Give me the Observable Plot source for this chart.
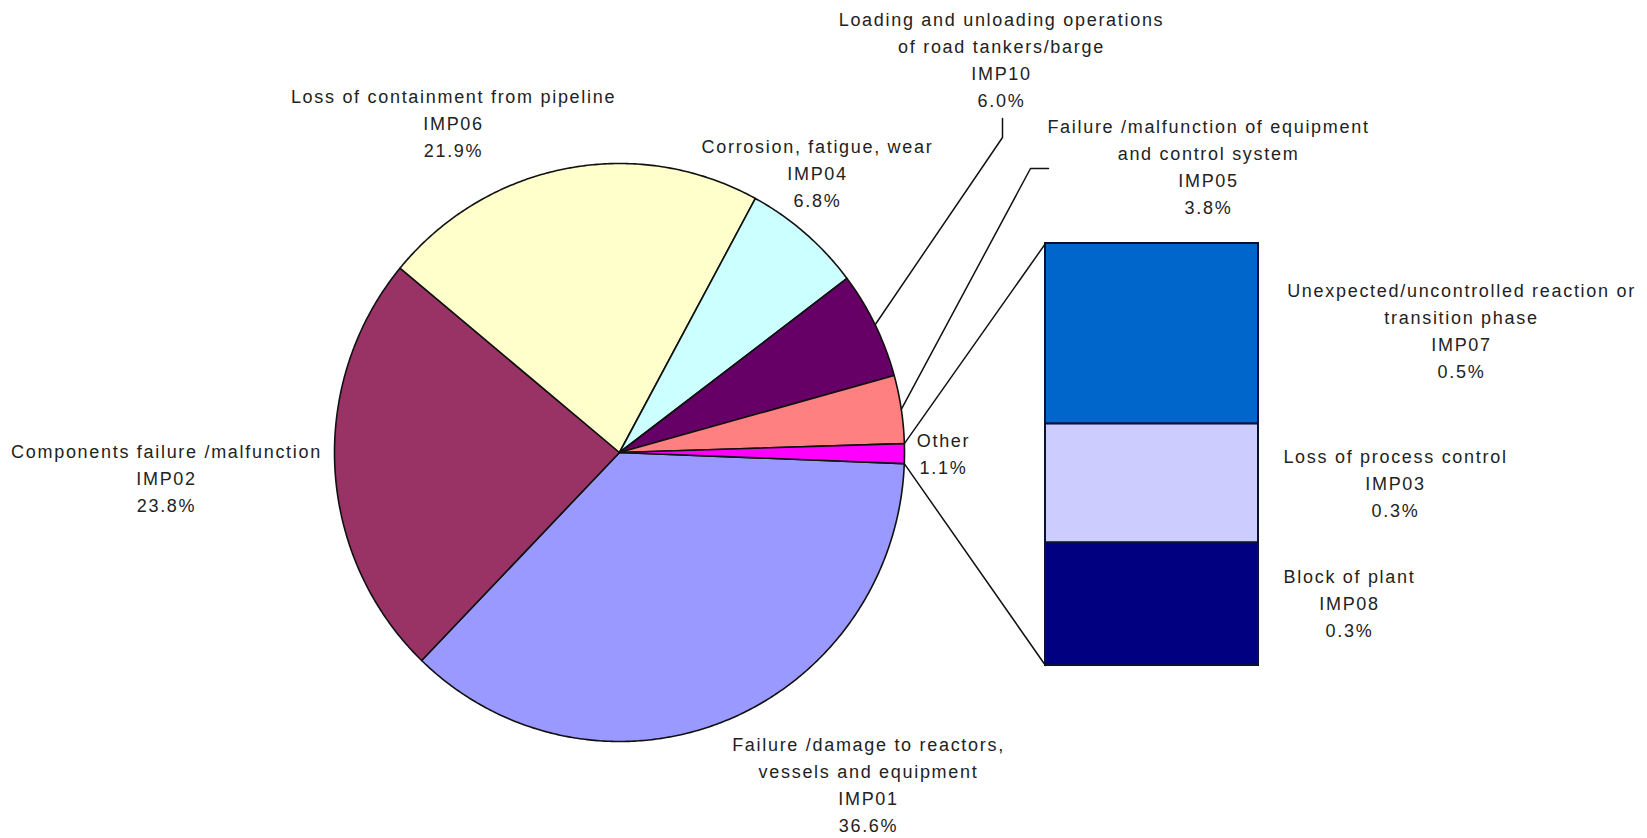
<!DOCTYPE html>
<html><head><meta charset="utf-8">
<script src="https://cdn.jsdelivr.net/npm/d3@7"></script>
<script src="https://cdn.jsdelivr.net/npm/@observablehq/plot@0.6"></script>
<style>
html,body{margin:0;padding:0;background:#fff;}
#chart svg text{letter-spacing:1.7px;}
</style></head><body><div id="chart"></div>
<script>
// ---- data ----
const codes = ["IMP01","IMP02","IMP06","IMP04","IMP10","IMP05","Other"];
const names = [
  "Failure /damage to reactors,\nvessels and equipment",
  "Components failure /malfunction",
  "Loss of containment from pipeline",
  "Corrosion, fatigue, wear",
  "Loading and unloading operations\nof road tankers/barge",
  "Failure /malfunction of equipment\nand control system",
  "Other"
];
const shares = [36.6, 23.8, 21.9, 6.8, 6.0, 3.8, 1.1];
const sliceColors = ["#9999FF","#993366","#FFFFCC","#CCFFFF","#660066","#FF8080","#FF00FF"];

const otherCodes = ["IMP07","IMP03","IMP08"];
const otherNames = ["Unexpected/uncontrolled reaction or\ntransition phase","Loss of process control","Block of plant"];
const otherShares = [0.47, 0.31, 0.32];
const otherColors = ["#0066CC","#CCCCFF","#000080"];

// ---- layout ----
const W = 1647, H = 838;
const pieLayout = {cx: 619, cy: 452, rx: 285, ry: 289, startDeg: 92.2};
const barLayout = {x0: 1045, x1: 1258, bottom: 665, top: 243};
const labelLayout = {
  IMP01: [868, 782], IMP02: [166, 476], IMP06: [453, 120.5], IMP04: [817, 171],
  IMP10: [1001, 57], IMP05: [1208, 164.5], Other: [943, 451],
  IMP07: [1461, 328], IMP03: [1395, 480.5], IMP08: [1349, 601]
};
const leaderLayout = {IMP10: [[1002, 137], [1002, 118]], IMP05: [[1030, 168], [1048, 168]]};

// ---- scales ----
const px = Plot.scale({x: {domain: [-1, 1], range: [pieLayout.cx - pieLayout.rx, pieLayout.cx + pieLayout.rx]}});
const py = Plot.scale({y: {domain: [-1, 1], range: [pieLayout.cy - pieLayout.ry, pieLayout.cy + pieLayout.ry]}});
const a0 = pieLayout.startDeg * Math.PI / 180;
const arcs = d3.pie().sort(null).startAngle(a0).endAngle(a0 + 2 * Math.PI)(shares);
const rim = a => ({x: px.apply(Math.sin(a)), y: py.apply(-Math.cos(a))});
const center = {x: px.apply(0), y: py.apply(0)};

const slicePts = [];
arcs.forEach((a, i) => {
  const base = {id: codes[i], color: sliceColors[i]};
  slicePts.push({...base, ...center});
  const n = Math.max(2, Math.ceil((a.endAngle - a.startAngle) / (Math.PI / 360)));
  for (let k = 0; k <= n; k++) {
    const t = a.startAngle + (a.endAngle - a.startAngle) * k / n;
    slicePts.push({...base, ...rim(t)});
  }
  slicePts.push({...base, ...center});
});

// stacked bar for "Other"
const total = d3.sum(otherShares);
const by = Plot.scale({y: {domain: [0, total], range: [barLayout.bottom, barLayout.top]}});
const barRows = [];
let acc = 0;
for (let i = otherShares.length - 1; i >= 0; i--) {
  barRows.push({id: otherCodes[i], color: otherColors[i], x1: barLayout.x0, x2: barLayout.x1,
    y1: by.apply(acc), y2: by.apply(acc + otherShares[i])});
  acc += otherShares[i];
}

// connector + leader lines
const linePts = [];
const otherArc = arcs[codes.indexOf("Other")];
linePts.push({id: "c1", ...rim(otherArc.startAngle)}, {id: "c1", x: barLayout.x0, y: by.apply(total)});
linePts.push({id: "c2", ...rim(otherArc.endAngle)}, {id: "c2", x: barLayout.x0, y: by.apply(0)});
for (const code of Object.keys(leaderLayout)) {
  const a = arcs[codes.indexOf(code)];
  linePts.push({id: code, ...rim((a.startAngle + a.endAngle) / 2)});
  for (const [x, y] of leaderLayout[code]) linePts.push({id: code, x, y});
}

// labels
const labels = [];
codes.forEach((c, i) => {
  const t = c === "Other" ? `${names[i]}\n${shares[i].toFixed(1)}%` : `${names[i]}\n${c}\n${shares[i].toFixed(1)}%`;
  labels.push({x: labelLayout[c][0], y: labelLayout[c][1], text: t});
});
otherCodes.forEach((c, i) => {
  labels.push({x: labelLayout[c][0], y: labelLayout[c][1], text: `${otherNames[i]}\n${c}\n${otherShares[i].toFixed(1)}%`});
});

const chart = Plot.plot({
  width: W, height: H, margin: 0,
  x: {domain: [0, W], range: [0, W], axis: null},
  y: {domain: [0, H], range: [0, H], axis: null},
  color: {type: "identity"},
  style: {background: "#fff", fontFamily: "'Liberation Sans', Arial, sans-serif"},
  marks: [
    Plot.line(slicePts, {x: "x", y: "y", z: "id", fill: "color", stroke: "#111", strokeWidth: 1.6, strokeLinejoin: "round"}),
    Plot.rect(barRows, {x1: "x1", x2: "x2", y1: "y1", y2: "y2", fill: "color", stroke: "#0a1233", strokeWidth: 2}),
    Plot.line(linePts, {x: "x", y: "y", z: "id", stroke: "#111", strokeWidth: 1.5}),
    Plot.text(labels, {x: "x", y: "y", text: "text", fontSize: 18, lineHeight: 1.5, textAnchor: "middle", lineAnchor: "middle", fill: "#222"})
  ]
});
document.getElementById("chart").appendChild(chart);
</script></body></html>
